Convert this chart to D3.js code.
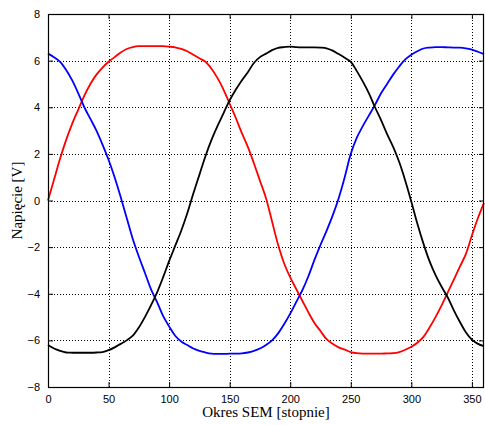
<!DOCTYPE html>
<html>
<head>
<meta charset="utf-8">
<script src="https://cdn.jsdelivr.net/npm/d3@7"></script>
<style>
  body { margin: 0; background: #fff; }
  svg { display: block; }
</style>
</head>
<body>
<div id="chart"></div>
<script>
// angle in degrees, every 5 deg
const angles = d3.range(0, 361, 5);

const redValues = [
  0, 0.9, 1.8, 2.6, 3.3, 3.9, 4.5, 5.0, 5.4, 5.7,
  5.95, 6.15, 6.35, 6.5, 6.58, 6.62, 6.62, 6.62, 6.62, 6.62,
  6.6, 6.57, 6.5, 6.4, 6.25, 6.1, 5.95, 5.65, 5.25, 4.75,
  4.15, 3.55, 2.9, 2.3, 1.6, 0.85, 0.1, -0.9, -1.9, -2.7,
  -3.3, -3.8, -4.3, -4.8, -5.25, -5.6, -5.95, -6.15, -6.3, -6.4,
  -6.5, -6.55, -6.57, -6.57, -6.57, -6.57, -6.56, -6.55, -6.5, -6.4,
  -6.27, -6.1, -5.85, -5.45, -5.0, -4.5, -3.95, -3.4, -2.85, -2.3,
  -1.5, -0.75, -0.1
];

const blueValues = [
  6.3, 6.15, 5.95, 5.6, 5.15, 4.6, 4.0, 3.5, 3.0, 2.4,
  1.75, 1.0, 0.15, -0.75, -1.65, -2.4, -3.1, -3.8, -4.35, -4.95,
  -5.4, -5.8, -6.05, -6.2, -6.35, -6.45, -6.52, -6.57, -6.58, -6.58,
  -6.57, -6.57, -6.56, -6.52, -6.45, -6.35, -6.2, -6.0, -5.7, -5.3,
  -4.85, -4.35, -3.85, -3.25, -2.55, -1.9, -1.3, -0.65, 0.1, 1.0,
  2.0, 2.7, 3.2, 3.65, 4.1, 4.6, 5.0, 5.4, 5.75, 6.05,
  6.25, 6.4, 6.52, 6.56, 6.58, 6.58, 6.57, 6.56, 6.56, 6.53,
  6.47, 6.38, 6.28
];

const blackValues = [
  -6.2, -6.35, -6.45, -6.52, -6.53, -6.53, -6.53, -6.53, -6.52, -6.5,
  -6.42, -6.3, -6.15, -6.0, -5.8, -5.45, -5.0, -4.5, -3.95, -3.3,
  -2.6, -1.95, -1.3, -0.55, 0.3, 1.1, 1.9, 2.6, 3.2, 3.75,
  4.3, 4.75, 5.15, 5.5, 5.9, 6.15, 6.3, 6.45, 6.55, 6.58,
  6.6, 6.58, 6.57, 6.57, 6.57, 6.56, 6.53, 6.43, 6.28, 6.12,
  5.95, 5.55, 5.1, 4.6, 4.0, 3.45, 2.85, 2.3, 1.65, 0.85,
  -0.05, -1.0, -1.85, -2.6, -3.2, -3.7, -4.15, -4.7, -5.2, -5.65,
  -5.97, -6.15, -6.25
];

const series = [
  { name: 'red', color: '#ff0000', values: redValues },
  { name: 'blue', color: '#0000ff', values: blueValues },
  { name: 'black', color: '#000000', values: blackValues }
];

const xTicks = [0, 50, 100, 150, 200, 250, 300, 350];
const yTicks = [-8, -6, -4, -2, 0, 2, 4, 6, 8];

const width = 485, height = 425;
const margin = { left: 48, right: 1, top: 14, bottom: 38 };
const innerWidth = width - margin.left - margin.right;
const innerHeight = height - margin.top - margin.bottom;

const svg = d3.select('#chart').append('svg')
  .attr('width', width)
  .attr('height', height);

const g = svg.append('g')
  .attr('transform', `translate(${margin.left},${margin.top})`);

const x = d3.scaleLinear().domain([0, 360]).range([0, innerWidth]);
const y = d3.scaleLinear().domain([-8, 8]).range([innerHeight, 0]);

// dotted grid
g.append('g')
  .selectAll('line')
  .data(xTicks.filter(d => d > 0))
  .enter().append('line')
  .attr('x1', d => Math.round(x(d)) + 0.5).attr('x2', d => Math.round(x(d)) + 0.5)
  .attr('y1', 0).attr('y2', innerHeight)
  .attr('stroke', '#000').attr('stroke-width', 1)
  .attr('stroke-dasharray', '1,2');

g.append('g')
  .selectAll('line')
  .data(yTicks.filter(d => d > -8 && d < 8))
  .enter().append('line')
  .attr('y1', d => Math.round(y(d)) + 0.5).attr('y2', d => Math.round(y(d)) + 0.5)
  .attr('x1', 0).attr('x2', innerWidth)
  .attr('stroke', '#000').attr('stroke-width', 1)
  .attr('stroke-dasharray', '1,2');

// curves
const line = d3.line()
  .x((d, i) => x(angles[i]))
  .y(d => y(d))
  .curve(d3.curveCatmullRom.alpha(0.5));

g.selectAll('path.curve')
  .data(series)
  .enter().append('path')
  .attr('class', 'curve')
  .attr('d', d => line(d.values))
  .attr('fill', 'none')
  .attr('stroke', d => d.color)
  .attr('stroke-width', 1.8)
  .attr('stroke-linejoin', 'round');

// axes, MATLAB style ticks pointing inward
const tickFont = '"Liberation Sans", Arial, sans-serif';

g.append('g')
  .attr('transform', `translate(0,${innerHeight})`)
  .call(d3.axisBottom(x).tickValues(xTicks).tickSizeInner(-5).tickSizeOuter(0).tickPadding(8));

g.append('g')
  .call(d3.axisLeft(y).tickValues(yTicks).tickSizeInner(-5).tickSizeOuter(0).tickPadding(8));

// top and right tick marks only, no labels
g.append('g')
  .selectAll('line')
  .data(xTicks)
  .enter().append('line')
  .attr('x1', d => x(d) + 0.5).attr('x2', d => x(d) + 0.5)
  .attr('y1', 0).attr('y2', 5)
  .attr('stroke', '#000');

g.append('g')
  .selectAll('line')
  .data(yTicks)
  .enter().append('line')
  .attr('y1', d => y(d) + 0.5).attr('y2', d => y(d) + 0.5)
  .attr('x1', innerWidth - 5).attr('x2', innerWidth)
  .attr('stroke', '#000');

g.selectAll('.domain').remove();
g.selectAll('.tick line').attr('stroke', '#000');
g.selectAll('.tick text')
  .attr('font-family', tickFont)
  .attr('font-size', 11)
  .attr('fill', '#000');

// box
g.append('rect')
  .attr('x', 0.5).attr('y', 0.5)
  .attr('width', innerWidth - 1).attr('height', innerHeight)
  .attr('fill', 'none')
  .attr('stroke', '#000')
  .attr('stroke-width', 1.2);

// labels
svg.append('text')
  .attr('x', margin.left + innerWidth / 2)
  .attr('y', 417)
  .attr('text-anchor', 'middle')
  .attr('font-family', '"Liberation Serif", "Times New Roman", serif')
  .attr('font-size', 15)
  .text('Okres SEM [stopnie]');

svg.append('text')
  .attr('transform', `translate(22,${margin.top + innerHeight / 2}) rotate(-90)`)
  .attr('text-anchor', 'middle')
  .attr('font-family', '"Liberation Serif", "Times New Roman", serif')
  .attr('font-size', 15)
  .text('Napięcie [V]');
</script>
</body>
</html>
